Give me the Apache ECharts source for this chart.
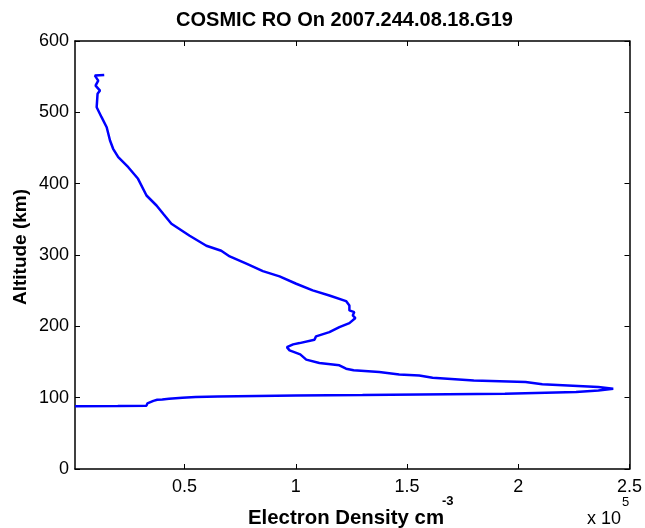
<!DOCTYPE html>
<html><head><meta charset="utf-8">
<script src="https://cdn.jsdelivr.net/npm/echarts@6/dist/echarts.min.js"></script>
<style>html,body{margin:0;padding:0;background:#fff}#c{width:645px;height:528px}</style>
</head><body><div id="c"></div>
<script>
// Electron density (units of 1e5 cm^-3) and altitude (km), read from the profile
const densityE5 = [0.0076, 0.20, 0.329, 0.333, 0.34, 0.36, 0.377, 0.40, 0.43, 0.49, 0.55, 0.65, 1.0, 1.3, 1.94, 2.26, 2.36, 2.427,
  2.36, 2.108, 2.033, 1.80, 1.615, 1.555, 1.465, 1.375, 1.26, 1.226, 1.196, 1.106, 1.047, 1.02, 0.972, 0.960, 0.988, 1.017,
  1.084, 1.091, 1.151, 1.196, 1.241, 1.268, 1.256, 1.263, 1.241, 1.241, 1.226, 1.151, 1.076, 1.002, 0.927, 0.852, 0.778,
  0.703, 0.665, 0.598, 0.523, 0.441, 0.404, 0.374, 0.329, 0.291, 0.247, 0.202, 0.179, 0.165, 0.15, 0.127, 0.105, 0.109,
  0.12, 0.10, 0.112, 0.097, 0.139];
const altitudeKm = [88, 88.3, 88.8, 92, 94, 95.5, 97, 97.5, 98.6, 100, 101, 101.8, 103, 103.7, 105.6, 107.9, 110, 112.6,
  114.9, 118.7, 121.9, 124, 128, 131, 132.5, 135.9, 138.5, 140.6, 145.3, 148.5, 153.3, 160.7, 166.3, 170.9, 174.7, 176.5,
  181.3, 185.9, 191.9, 198.9, 204.5, 211.6, 215.3, 220, 222.3, 229.3, 235.4, 243.3, 250.4, 259.7, 270, 277.4, 287.8,
  298, 306, 313, 327, 343.8, 357.8, 369.4, 383.4, 406.8, 423.1, 437.1, 448.9, 460.5, 479.1, 493.2, 507.2, 525.9,
  530.5, 537.5, 544.5, 551.5, 552.5];
const xTickValues = [0.5, 1, 1.5, 2, 2.5];
const yTickValues = [0, 100, 200, 300, 400, 500, 600];
const titleText = 'COSMIC RO On 2007.244.08.18.G19';
const xLabelText = 'Electron Density cm';
const xLabelSup = '-3';
const yLabelText = 'Altitude (km)';
const xScaleText = 'x 10';
const xScaleSup = '5';

const FONT = 'Liberation Sans, Arial, Helvetica, sans-serif';
const points = densityE5.map((d, i) => [d, altitudeKm[i]]);
const chart = echarts.init(document.getElementById('c'), null, {renderer: 'canvas'});

const baseX = {
  type: 'value', min: 0.0076, max: 2.5, gridIndex: 0,
  splitLine: {show: false},
  axisLine: {show: true, onZero: false, lineStyle: {color: '#000', width: 1.5}},
  axisTick: {show: true, inside: true, length: 5, customValues: xTickValues, lineStyle: {color: '#000', width: 1}},
  axisLabel: {show: true, customValues: xTickValues, color: '#000', fontSize: 18, fontFamily: FONT, margin: 9,
    formatter: v => String(v)}
};
const baseY = {
  type: 'value', min: yTickValues[0], max: yTickValues[yTickValues.length - 1], interval: 100, gridIndex: 0,
  splitLine: {show: false},
  axisLine: {show: true, onZero: false, lineStyle: {color: '#000', width: 1.5}},
  axisTick: {show: true, inside: true, length: 5, lineStyle: {color: '#000', width: 1}},
  axisLabel: {show: true, color: '#000', fontSize: 18, fontFamily: FONT, margin: 6}
};

chart.setOption({
  animation: false,
  backgroundColor: '#fff',
  grid: {left: 75, top: 41, width: 556, height: 428, containLabel: false},
  xAxis: [
    Object.assign({}, baseX, {position: 'bottom'}),
    Object.assign({}, baseX, {position: 'top', axisLabel: {show: false}})
  ],
  yAxis: [
    Object.assign({}, baseY, {position: 'left'}),
    Object.assign({}, baseY, {position: 'right', axisLabel: {show: false}})
  ],
  series: [{
    type: 'line', xAxisIndex: 0, yAxisIndex: 0, data: points,
    showSymbol: false, smooth: false, clip: true,
    lineStyle: {color: '#0000ff', width: 2.5}
  }],
  graphic: [
    {type: 'text', x: 344.5, y: 20, style: {text: titleText, font: 'bold 20px ' + FONT, fill: '#000', textAlign: 'center', textVerticalAlign: 'middle'}},
    {type: 'text', x: 248, y: 518, style: {text: xLabelText, font: 'bold 20.4px ' + FONT, fill: '#000', textAlign: 'left', textVerticalAlign: 'middle'}},
    {type: 'text', x: 442, y: 501, style: {text: xLabelSup, font: 'bold 13px ' + FONT, fill: '#000', textAlign: 'left', textVerticalAlign: 'middle'}},
    {type: 'text', x: 21, y: 247, rotation: Math.PI / 2, style: {text: yLabelText, font: 'bold 19px ' + FONT, fill: '#000', textAlign: 'center', textVerticalAlign: 'middle'}},
    {type: 'text', x: 587, y: 519, style: {text: xScaleText, font: '18px ' + FONT, fill: '#000', textAlign: 'left', textVerticalAlign: 'middle'}},
    {type: 'text', x: 622, y: 502, style: {text: xScaleSup, font: '13px ' + FONT, fill: '#000', textAlign: 'left', textVerticalAlign: 'middle'}}
  ]
});
</script>
</body></html>
